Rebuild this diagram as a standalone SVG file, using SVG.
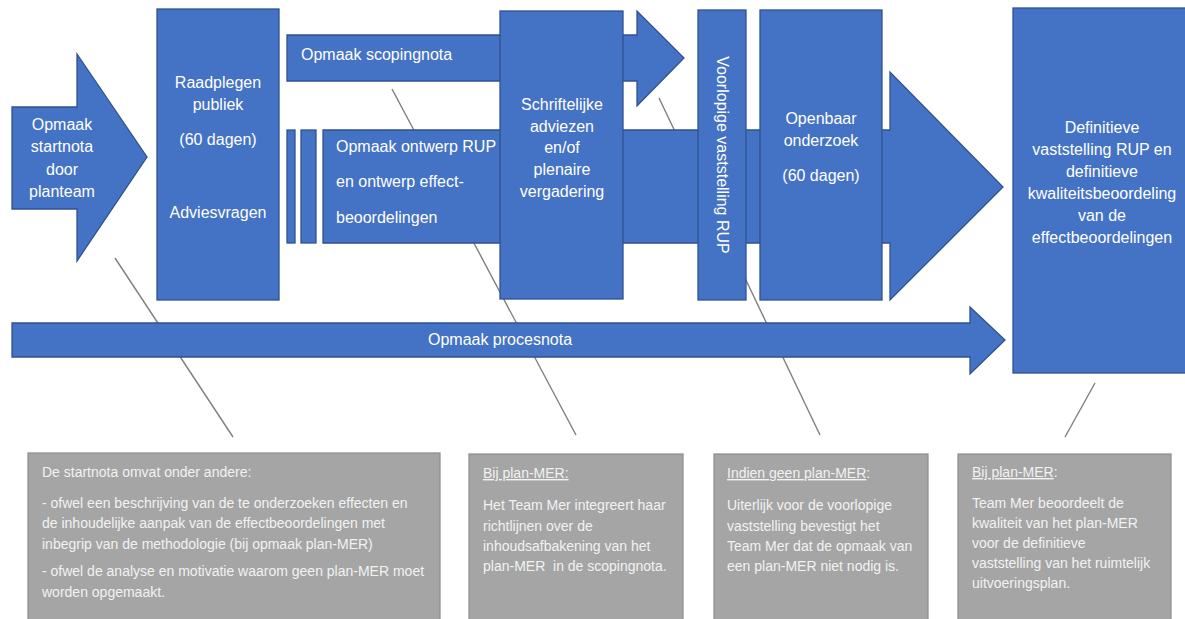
<svg xmlns="http://www.w3.org/2000/svg" width="1185" height="619" viewBox="0 0 1185 619">
<style>
.blue{fill:#4472c4;stroke:#2f528f;stroke-width:1.3}
.gray{fill:#a5a5a5;stroke:#8c8c8c;stroke-width:1.2}
.conn{stroke:#7f7f7f;stroke-width:1.4;fill:none}
.t{font-family:"Liberation Sans",Arial,sans-serif;font-size:16px;fill:#ffffff}
.c{text-anchor:middle}
.n{font-family:"Liberation Sans",Arial,sans-serif;font-size:14px;fill:#f2f2f2}
.u{text-decoration:underline}
</style>
<rect width="1185" height="619" fill="#ffffff"/>
<g id="connectors">
<line class="conn" x1="115" y1="258" x2="233" y2="437"/>
<line class="conn" x1="392" y1="89" x2="576" y2="435"/>
<line class="conn" x1="659" y1="98" x2="820" y2="435"/>
<line class="conn" x1="1095" y1="383" x2="1065" y2="437"/>
</g>
<g id="procesnota">
<polygon class="blue" points="12,323 970,323 970,307 1005,340 970,374 970,357 12,357"/>
<text class="t c" x="500" y="345">Opmaak procesnota</text>
</g>
<g id="startnota">
<polygon class="blue" points="12,107 77,107 77,54 147,157 77,261 77,209 12,209"/>
<text class="t c" x="62" y="130">Opmaak</text>
<text class="t c" x="62" y="152">startnota</text>
<text class="t c" x="62" y="175">door</text>
<text class="t c" x="62" y="197">planteam</text>
</g>
<g id="scopingnota">
<polygon class="blue" points="287,35 637,35 637,11 684,58 637,106 637,81 287,81"/>
<text class="t" x="301" y="60">Opmaak scopingnota</text>
</g>
<g id="bars">
<rect class="blue" x="287" y="130" width="8" height="113"/>
<rect class="blue" x="301" y="130" width="15" height="113"/>
</g>
<g id="ontwerp">
<polygon class="blue" points="323,130 890,130 890,72 1003,187 890,300 890,243 323,243"/>
<text class="t" x="336" y="152">Opmaak ontwerp RUP</text>
<text class="t" x="336" y="187">en ontwerp effect-</text>
<text class="t" x="336" y="223">beoordelingen</text>
</g>
<g id="raadplegen">
<rect class="blue" x="157" y="9" width="122" height="291"/>
<text class="t c" x="218" y="88">Raadplegen</text>
<text class="t c" x="218" y="110">publiek</text>
<text class="t c" x="218" y="145">(60 dagen)</text>
<text class="t c" x="218" y="218">Adviesvragen</text>
</g>
<g id="schriftelijke">
<rect class="blue" x="500" y="11" width="123" height="288"/>
<text class="t c" x="562" y="110">Schriftelijke</text>
<text class="t c" x="562" y="132">adviezen</text>
<text class="t c" x="562" y="153">en/of</text>
<text class="t c" x="562" y="175">plenaire</text>
<text class="t c" x="562" y="197">vergadering</text>
</g>
<g id="voorlopige">
<rect class="blue" x="698" y="10" width="48" height="290"/>
<text class="t c" x="722" y="155" dominant-baseline="central" transform="rotate(90 722 155)">Voorlopige vaststelling RUP</text>
</g>
<g id="openbaar">
<rect class="blue" x="760" y="10" width="122" height="290"/>
<text class="t c" x="821" y="124">Openbaar</text>
<text class="t c" x="821" y="146">onderzoek</text>
<text class="t c" x="821" y="181">(60 dagen)</text>
</g>
<g id="definitieve">
<rect class="blue" x="1013" y="8" width="180" height="365"/>
<text class="t c" x="1102" y="133">Definitieve</text>
<text class="t c" x="1102" y="155">vaststelling RUP en</text>
<text class="t c" x="1102" y="177">definitieve</text>
<text class="t c" x="1102" y="199">kwaliteitsbeoordeling</text>
<text class="t c" x="1102" y="221">van de</text>
<text class="t c" x="1102" y="243">effectbeoordelingen</text>
</g>
<g id="note1">
<rect class="gray" x="28" y="453" width="412" height="175"/>
<text class="n" x="42" y="477">De startnota omvat onder andere:</text>
<text class="n" x="42" y="508">- ofwel een beschrijving van de te onderzoeken effecten en</text>
<text class="n" x="42" y="528">de inhoudelijke aanpak van de effectbeoordelingen met</text>
<text class="n" x="42" y="549">inbegrip van de methodologie (bij opmaak plan-MER)</text>
<text class="n" x="42" y="576">- ofwel de analyse en motivatie waarom geen plan-MER moet</text>
<text class="n" x="42" y="597">worden opgemaakt.</text>
</g>
<g id="note2">
<rect class="gray" x="469" y="454" width="214" height="175"/>
<text class="n u" x="483" y="478">Bij plan-MER:</text>
<text class="n" x="483" y="510">Het Team Mer integreert haar</text>
<text class="n" x="483" y="531">richtlijnen over de</text>
<text class="n" x="483" y="551">inhoudsafbakening van het</text>
<text class="n" x="483" y="571" xml:space="preserve">plan-MER  in de scopingnota.</text>
</g>
<g id="note3">
<rect class="gray" x="714" y="454" width="214" height="175"/>
<text class="n" x="727" y="478"><tspan class="u">Indien geen plan-MER</tspan>:</text>
<text class="n" x="727" y="510">Uiterlijk voor de voorlopige</text>
<text class="n" x="727" y="531">vaststelling bevestigt het</text>
<text class="n" x="727" y="551">Team Mer dat de opmaak van</text>
<text class="n" x="727" y="571">een plan-MER niet nodig is.</text>
</g>
<g id="note4">
<rect class="gray" x="958" y="454" width="213" height="175"/>
<text class="n" x="972" y="477"><tspan class="u">Bij plan-MER</tspan>:</text>
<text class="n" x="972" y="508">Team Mer beoordeelt de</text>
<text class="n" x="972" y="528">kwaliteit van het plan-MER</text>
<text class="n" x="972" y="548">voor de definitieve</text>
<text class="n" x="972" y="568">vaststelling van het ruimtelijk</text>
<text class="n" x="972" y="588">uitvoeringsplan.</text>
</g>
</svg>
